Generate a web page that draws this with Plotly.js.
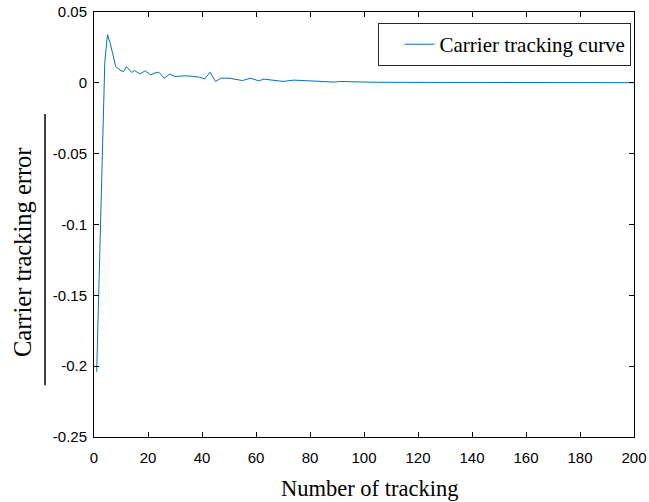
<!DOCTYPE html>
<html>
<head>
<meta charset="utf-8">
<script src="https://cdn.plot.ly/plotly-3.0.1.min.js"></script>
<style>html,body{margin:0;padding:0;background:#fff;}#chart{width:649px;height:502px;}</style>
</head>
<body>
<div id="chart"></div>
<script>
// Data
var trackNumber = [1, 4, 5, 6, 7, 8, 10, 11, 12, 14, 15, 17, 19, 21, 23, 24, 26, 28, 30, 32, 34, 37, 39, 41, 43, 45, 47, 50, 52, 55, 58, 61, 63, 66, 70, 74, 79, 84, 89, 91, 97, 105, 130, 160, 200];
var trackError = [-0.204, 0.015, 0.034, 0.028, 0.020, 0.0115, 0.0085, 0.008, 0.0115, 0.0073, 0.0087, 0.0063, 0.0085, 0.0056, 0.0073, 0.0075, 0.0033, 0.0061, 0.0045, 0.005, 0.005, 0.0045, 0.004, 0.0028, 0.0075, 0.001, 0.0033, 0.0033, 0.0026, 0.0016, 0.0033, 0.0014, 0.0026, 0.0019, 0.001, 0.0019, 0.0012, 0.001, 0.0005, 0.001, 0.0007, 0.0004, 0.0003, 0.0002, 0.0001];
var seriesName = 'Carrier tracking curve';
var xTickVals = [0, 20, 40, 60, 80, 100, 120, 140, 160, 180, 200];
var xTickText = ['0', '20', '40', '60', '80', '100', '120', '140', '160', '180', '200'];
var yTickVals = [-0.25, -0.2, -0.15, -0.1, -0.05, 0, 0.05];
var yTickText = ['-0.25', '-0.2', '-0.15', '-0.1', '-0.05', '0', '0.05'];
var xTitle = 'Number of tracking';
var yTitle = 'Carrier tracking error';

var serif = '"Liberation Serif", "Times New Roman", serif';
var sans = '"Liberation Sans", Arial, sans-serif';

var trace = {
  x: trackNumber,
  y: trackError,
  type: 'scatter',
  mode: 'lines',
  name: seriesName,
  line: {color: '#0072BD', width: 1}
};

var axisCommon = {
  showgrid: false,
  zeroline: false,
  showline: true,
  linecolor: '#000',
  linewidth: 1,
  mirror: 'ticks',
  ticks: 'inside',
  ticklen: 5,
  tickcolor: '#000',
  tickwidth: 1,
  tickmode: 'array',
  tickfont: {family: sans, size: 15, color: '#000'}
};

var layout = {
  width: 649,
  height: 502,
  paper_bgcolor: '#fff',
  plot_bgcolor: '#fff',
  margin: {l: 94, r: 15, t: 12, b: 65},
  showlegend: true,
  legend: {
    x: 0.526, y: 0.974, xanchor: 'left', yanchor: 'top',
    bgcolor: '#fff', bordercolor: '#262626', borderwidth: 1,
    font: {family: serif, size: 21, color: '#000'},
    title: {text: '\u00a0\u00a0', side: 'left', font: {family: serif, size: 21}}
  },
  xaxis: Object.assign({}, axisCommon, {
    range: [0, 200],
    tickvals: xTickVals,
    ticktext: xTickText,
    ticklabelstandoff: 7
  }),
  yaxis: Object.assign({}, axisCommon, {
    range: [-0.25, 0.05],
    tickvals: yTickVals,
    ticktext: yTickText,
    ticklabelstandoff: 3
  }),
  annotations: [{
    text: yTitle, textangle: -90, showarrow: false,
    xref: 'paper', yref: 'paper',
    x: (22 - 94) / 540, y: (437 - 252) / 425,
    xanchor: 'center', yanchor: 'middle',
    font: {family: serif, size: 24.5, color: '#000'}
  }, {
    text: xTitle, showarrow: false,
    xref: 'paper', yref: 'paper',
    x: (369 - 94) / 540, y: (437 - 488) / 425,
    xanchor: 'center', yanchor: 'middle',
    font: {family: serif, size: 22.5, color: '#000'}
  }],
  shapes: [{
    type: 'line', xref: 'paper', yref: 'paper',
    x0: -0.0907, x1: -0.0907, y0: 0.76, y1: 0.122,
    line: {color: '#000', width: 1.5}
  }]
};

Plotly.newPlot('chart', [trace], layout, {staticPlot: true, displayModeBar: false});
</script>
</body>
</html>
